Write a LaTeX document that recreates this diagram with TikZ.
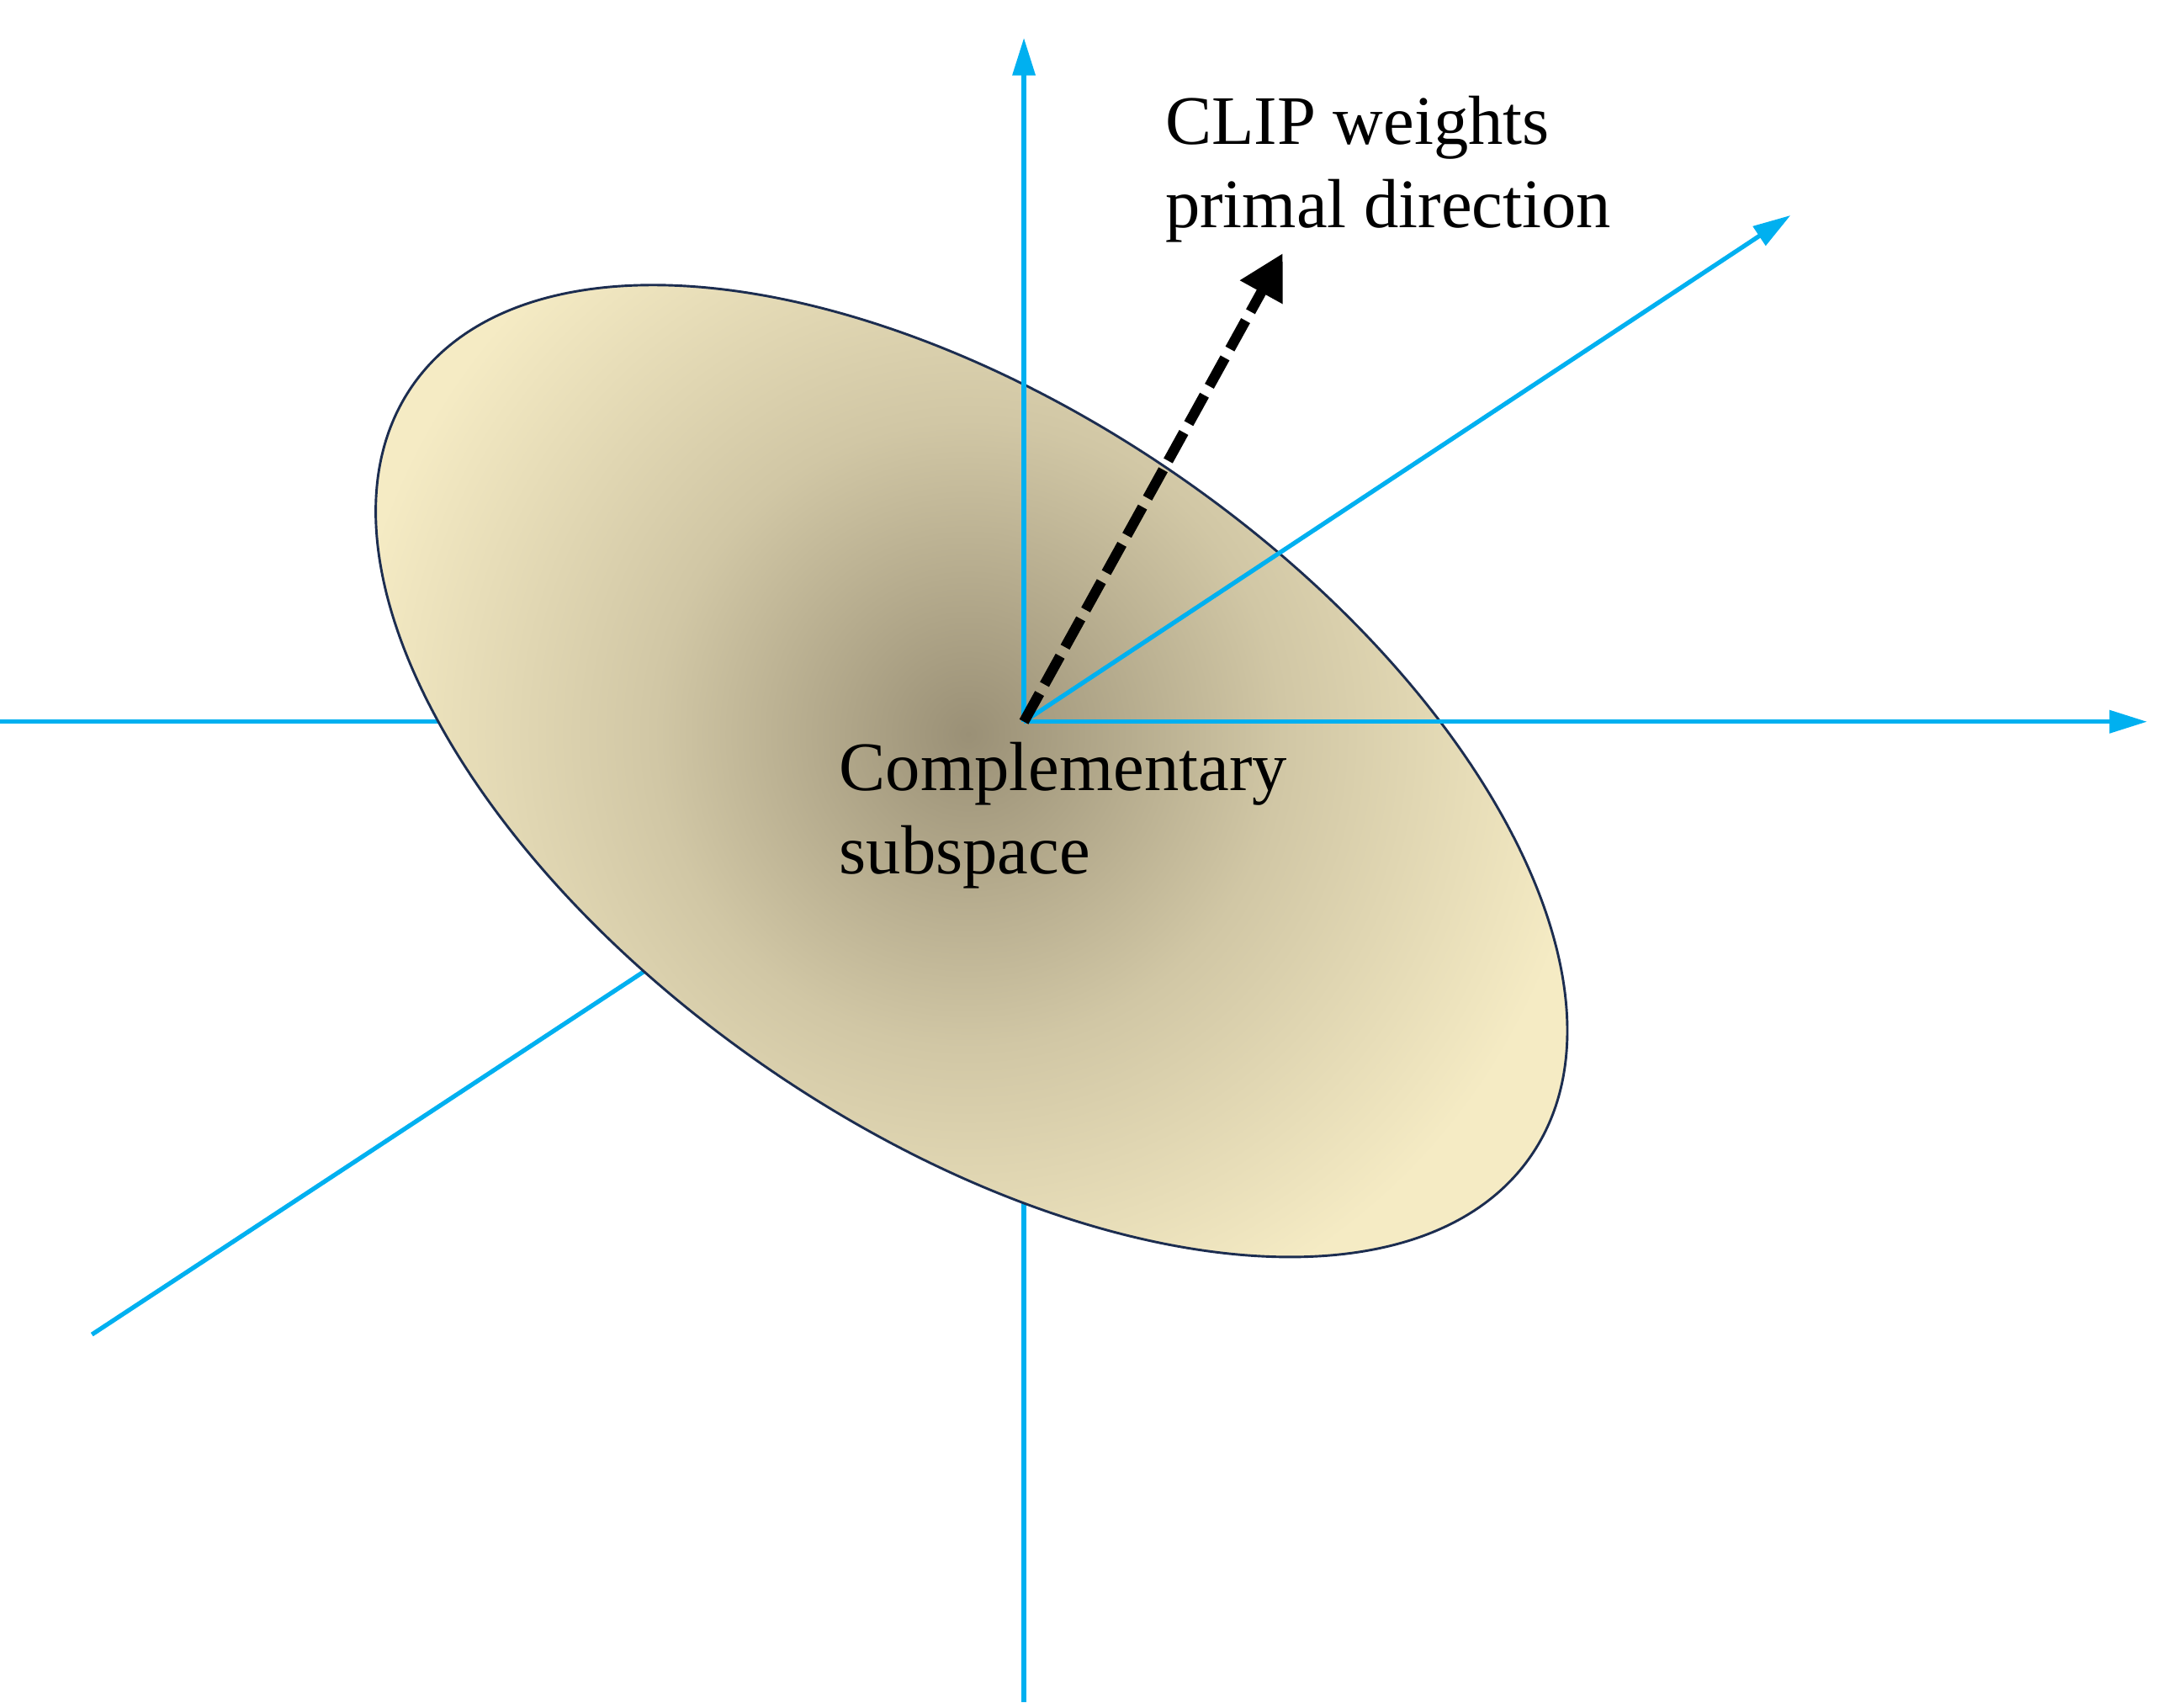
\documentclass[tikz,border=0pt]{standalone}
\usepackage{fontspec}
\setmainfont{Liberation Serif}
\usetikzlibrary{arrows.meta}

\definecolor{axisblue}{HTML}{00B0F0}
\definecolor{rimnavy}{HTML}{1C2D50}
\definecolor{blobdark}{HTML}{9A9076}
\definecolor{bloblight}{HTML}{F5EBC4}
\pgfdeclareradialshading{blobshade}{\pgfpoint{0bp}{0bp}}{color(0bp)=(blobdark); color(10bp)=(blobdark!40!bloblight); color(20bp)=(bloblight); color(50bp)=(bloblight)}

\begin{document}
\begin{tikzpicture}
[font=\fontsize{14.2}{17}\selectfont, line width=0.9pt,
axis/.style={draw=axisblue, line width=0.9pt},
axisarrow/.style={axis, -{Triangle[length=2.7mm, width=1.6mm]}},
primal/.style={draw=black, line width=2.1pt, dash pattern=on 6.6pt off 2.1pt, -{Triangle[length=3.2mm, width=3.3mm]}},
lbl/.style={anchor=north west, inner sep=0pt, align=left}]

\useasboundingbox (0,0) rectangle (15.68,12.22);

\coordinate (O) at (7.351,7.039);
\coordinate (xneg) at (0,7.039);
\coordinate (xpos) at (15.415,7.039);
\coordinate (yneg) at (7.351,0);
\coordinate (ypos) at (7.351,11.948);
\coordinate (dneg) at (0.660,2.640);
\coordinate (dpos) at (12.855,10.674);
\coordinate (ptip) at (9.210,10.402);

% back halves of the axes
\draw[axis] (O) -- (xneg);
\draw[axis] (O) -- (yneg);
\draw[axis] (O) -- (dneg);

% shaded subspace
\begin{scope}
  \clip[rotate around={-34.5:(6.975,6.685)}] (6.975,6.685) ellipse (4.875 and 2.587);
  \shade[shading=blobshade] (1.35,1.35) rectangle (12.55,12.55);
\end{scope}
\draw[rimnavy, line width=0.5pt, rotate around={-34.5:(6.975,6.685)}] (6.975,6.685) ellipse (4.875 and 2.587);

% front halves of the axes
\draw[axisarrow] (O) -- (xpos);
\draw[axisarrow] (O) -- (ypos);
\draw[axisarrow] (O) -- (dpos);

\draw[primal] (O) -- (ptip);

\node[lbl] (clipw) at (8.35,11.548) {CLIP weights\\primal direction};
\node[lbl] (compl) at (6.01,6.905) {Complementary\\subspace};
\end{tikzpicture}
\end{document}
